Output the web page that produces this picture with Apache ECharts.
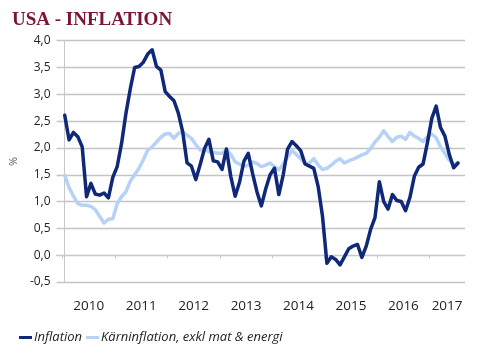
<!DOCTYPE html>
<html>
<head>
<meta charset="utf-8">
<script src="https://cdn.jsdelivr.net/npm/echarts@6/dist/echarts.min.js"></script>
<style>html,body{margin:0;padding:0;background:#fff;}#c{width:488px;height:358px;}</style>
</head>
<body>
<div id="c"></div>
<script>
// Monthly values, Jan 2010 .. Jul 2017
const years = ['2010','2011','2012','2013','2014','2015','2016','2017'];
const inflation = [
  2.61, 2.15, 2.29, 2.21, 2.02, 1.09, 1.34, 1.14, 1.12, 1.16, 1.07, 1.45,
  1.65, 2.08, 2.64, 3.10, 3.50, 3.52, 3.60, 3.75, 3.83, 3.52, 3.45, 3.05,
  2.96, 2.88, 2.65, 2.30, 1.72, 1.66, 1.41, 1.69, 1.99, 2.16, 1.76, 1.74,
  1.60, 1.98, 1.47, 1.10, 1.36, 1.75, 1.90, 1.52, 1.18, 0.92, 1.24, 1.50,
  1.62, 1.13, 1.50, 1.98, 2.12, 2.04, 1.95, 1.70, 1.66, 1.62, 1.28, 0.72,
  -0.15, -0.03, -0.08, -0.18, -0.03, 0.12, 0.17, 0.20, -0.04, 0.17, 0.48, 0.70,
  1.37, 1.00, 0.86, 1.13, 1.02, 1.00, 0.83, 1.08, 1.47, 1.64, 1.70, 2.10,
  2.55, 2.78, 2.38, 2.22, 1.88, 1.63, 1.72
];
const core = [
  1.49, 1.26, 1.10, 0.96, 0.93, 0.93, 0.91, 0.85, 0.72, 0.60, 0.67, 0.68,
  0.96, 1.09, 1.18, 1.38, 1.50, 1.62, 1.78, 1.96, 2.02, 2.11, 2.20, 2.26,
  2.27, 2.18, 2.27, 2.30, 2.24, 2.18, 2.06, 1.96, 1.98, 1.93, 1.92, 1.90,
  1.90, 1.97, 1.88, 1.74, 1.70, 1.65, 1.68, 1.74, 1.71, 1.65, 1.68, 1.72,
  1.65, 1.59, 1.70, 1.83, 1.95, 1.88, 1.80, 1.71, 1.72, 1.80, 1.68, 1.60,
  1.62, 1.68, 1.75, 1.80, 1.72, 1.76, 1.79, 1.83, 1.87, 1.90, 1.99, 2.11,
  2.20, 2.32, 2.21, 2.12, 2.20, 2.22, 2.16, 2.29, 2.22, 2.18, 2.12, 2.21,
  2.26, 2.19, 2.02, 1.90, 1.77, 1.70, 1.71
];

const tickVals = years.map((y, k) => k * 12 - 0.5);
const labelVals = years.map((y, k) => k < years.length - 1 ? k * 12 + 5.5 : 87.5);

const chart = echarts.init(document.getElementById('c'), null, {renderer: 'canvas'});
chart.setOption({
  animation: false,
  backgroundColor: '#fff',
  title: {
    text: 'USA - INFLATION',
    left: 7, top: 6,
    textStyle: {fontFamily: 'Liberation Serif', fontWeight: 'bold', fontSize: 19, color: '#7b1631'}
  },
  legend: {
    left: 14, top: 326,
    itemWidth: 13, itemHeight: 3, itemGap: 4,
    icon: 'rect',
    textStyle: {fontFamily: 'Open Sans', fontStyle: 'italic', fontSize: 13, color: '#222', padding: [0, 0, 0, -3]},
    data: ['Inflation', 'Kärninflation, exkl mat & energi']
  },
  grid: {left: 53, right: 23, top: 40.7, bottom: 76, containLabel: false},
  xAxis: {
    type: 'value',
    min: -1.86, max: 91.6,
    offset: 10,
    axisLine: {show: true, lineStyle: {color: '#c8c8c8', width: 1}},
    axisTick: {show: true, length: 3, customValues: tickVals, lineStyle: {color: '#c8c8c8'}},
    splitLine: {show: false},
    axisLabel: {
      customValues: labelVals,
      formatter: v => years[Math.floor((v + 0.5) / 12)],
      fontFamily: 'Open Sans', fontSize: 13.5, color: '#222', margin: 7
    }
  },
  yAxis: {
    type: 'value',
    min: -0.5, max: 4, interval: 0.5,
    name: '%', nameLocation: 'middle', nameGap: 37, nameRotate: 90,
    nameTextStyle: {fontFamily: 'Open Sans', fontSize: 11, color: '#555'},
    axisLine: {show: true, lineStyle: {color: '#c8c8c8'}},
    axisTick: {show: true, length: 4, lineStyle: {color: '#c8c8c8'}},
    splitLine: {show: true, lineStyle: {color: '#c4c4c4', width: 1.3}},
    axisLabel: {
      formatter: v => v.toFixed(1).replace('.', ','),
      fontFamily: 'Open Sans', fontSize: 12, color: '#222', margin: 6
    }
  },
  series: [
    {
      name: 'Kärninflation, exkl mat & energi', type: 'line', showSymbol: false, z: 2,
      data: core.map((v, i) => [i, v]),
      itemStyle: {color: '#b7d2f7'},
      lineStyle: {color: '#b7d2f7', width: 3.5, join: 'round', cap: 'round'}
    },
    {
      name: 'Inflation', type: 'line', showSymbol: false, z: 3,
      data: inflation.map((v, i) => [i, v]),
      itemStyle: {color: '#0f2877'},
      lineStyle: {color: '#0f2877', width: 3.5, join: 'round', cap: 'round'}
    }
  ]
});
</script>
</body>
</html>
